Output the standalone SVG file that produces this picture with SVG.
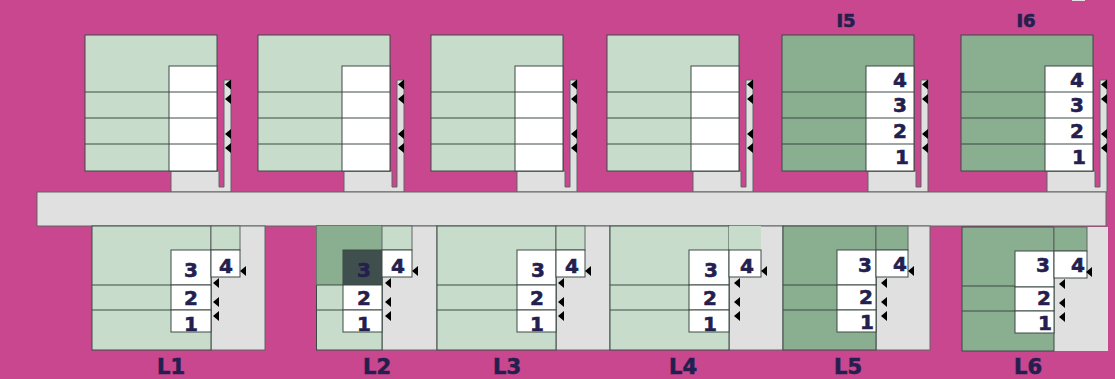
<svg xmlns="http://www.w3.org/2000/svg" xmlns:xlink="http://www.w3.org/1999/xlink" width="1115" height="379" viewBox="0 0 1115 379">
<style>
.ln{stroke:#3c4a44;stroke-width:1;fill:none}
.wh{fill:#fff;stroke:#3c4a44;stroke-width:1}
.gy{fill:#e0e0e0;stroke:#5f6662;stroke-width:1}
.n{font-family:"DejaVu Sans","Liberation Sans",sans-serif;font-weight:700;font-size:20px;fill:#241f4e;stroke:#241f4e;stroke-width:.6;text-anchor:middle}
.t{font-family:"DejaVu Sans","Liberation Sans",sans-serif;font-weight:700;font-size:21px;fill:#241f4e;stroke:#241f4e;stroke-width:.6;text-anchor:middle}
.a{fill:#000}
</style>
<defs>
<path id="ar" class="a" d="M0 0L6-5V5Z"/>
<g id="upper">
<path class="gy" d="M86 136H134V152H139V45H146V157H86Z"/>
<rect x="0" y="0" width="132" height="136" stroke="#3c4a44" stroke-width="1"/>
<rect class="wh" x="84" y="31" width="48" height="105"/>
<path class="ln" d="M0 57H132M0 83H132M0 109H132"/>
<use xlink:href="#ar" x="140" y="49.500"/>
<use xlink:href="#ar" x="140" y="64"/>
<use xlink:href="#ar" x="140" y="99"/>
<use xlink:href="#ar" x="140" y="113"/>
</g>
<g id="arrows">
<use xlink:href="#ar" x="29" y="271"/>
<use xlink:href="#ar" x="2" y="283"/>
<use xlink:href="#ar" x="2" y="302"/>
<use xlink:href="#ar" x="2" y="316"/>
</g>
</defs>
<rect width="1115" height="379" fill="#c8478f"/>
<rect x="1072" y="0" width="13" height="1" fill="#e8dfe4"/>
<g id="upper-rooms">
<g id="I1"><use xlink:href="#upper" x="85" y="35" fill="#c8dccb"/></g>
<g id="I2"><use xlink:href="#upper" x="258" y="35" fill="#c8dccb"/></g>
<g id="I3"><use xlink:href="#upper" x="431" y="35" fill="#c8dccb"/></g>
<g id="I4"><use xlink:href="#upper" x="607" y="35" fill="#c8dccb"/></g>
<g id="I5"><use xlink:href="#upper" x="782" y="35" fill="#8aae90"/>
<text class="n" x="900" y="87">4</text><text class="n" x="900" y="112">3</text><text class="n" x="900" y="138">2</text><text class="n" x="902" y="164">1</text>
<text class="t" x="846" y="27" style="font-size:18px">I5</text></g>
<g id="I6"><use xlink:href="#upper" x="961" y="35" fill="#8aae90"/>
<text class="n" x="1077" y="87">4</text><text class="n" x="1077" y="112">3</text><text class="n" x="1077" y="138">2</text><text class="n" x="1079" y="164">1</text>
<text class="t" x="1026" y="27" style="font-size:18px">I6</text></g>
</g>
<g id="corridor"><rect class="gy" x="37" y="192" width="1069" height="34"/></g>
<g id="lower-rooms">
<g id="L1">
<rect class="gy" x="211" y="226" width="54" height="124"/>
<rect x="92" y="226" width="119" height="124" fill="#c8dccb" stroke="#3c4a44"/>
<rect x="211" y="226" width="29" height="24" fill="#c8dccb" stroke="#5f6662"/>
<path class="ln" d="M92 285H171M92 310H171"/>
<rect class="wh" x="171" y="250" width="40" height="35"/><rect class="wh" x="171" y="285" width="40" height="25"/><rect class="wh" x="171" y="310" width="40" height="22"/><rect class="wh" x="211" y="250" width="29" height="27"/>
<use xlink:href="#arrows" x="211"/>
<text class="n" x="191" y="277">3</text><text class="n" x="226" y="273">4</text><text class="n" x="191" y="305">2</text><text class="n" x="191" y="331">1</text>
<text class="t" x="171" y="374">L1</text></g>
<g id="L2">
<rect class="gy" x="382" y="226" width="55" height="124"/>
<rect x="316.500" y="226" width="65.500" height="124" fill="#c8dccb" stroke="#3c4a44"/>
<rect x="316.500" y="226" width="65.500" height="59" fill="#8aae90"/>
<rect x="382" y="226" width="30" height="24" fill="#c8dccb" stroke="#5f6662"/>
<path class="ln" d="M317 285H343M317 310H343"/>
<rect x="343" y="250" width="39" height="35" fill="#3f4f4d" stroke="#3c4a44"/><rect class="wh" x="343" y="285" width="39" height="25"/><rect class="wh" x="343" y="310" width="39" height="22"/><rect class="wh" x="382" y="250" width="30" height="27"/>
<use xlink:href="#arrows" x="383"/>
<text class="n" x="364" y="277">3</text><text class="n" x="398" y="273">4</text><text class="n" x="364" y="305">2</text><text class="n" x="364" y="331">1</text>
<text class="t" x="377" y="374">L2</text></g>
<g id="L3">
<rect class="gy" x="556" y="226" width="54" height="124"/>
<rect x="437" y="226" width="119" height="124" fill="#c8dccb" stroke="#3c4a44"/>
<rect x="556" y="226" width="29" height="24" fill="#c8dccb" stroke="#5f6662"/>
<path class="ln" d="M437 285H517M437 310H517"/>
<rect class="wh" x="517" y="250" width="39" height="35"/><rect class="wh" x="517" y="285" width="39" height="25"/><rect class="wh" x="517" y="310" width="39" height="22"/><rect class="wh" x="556" y="250" width="29" height="27"/>
<use xlink:href="#arrows" x="556"/>
<text class="n" x="538" y="277">3</text><text class="n" x="572" y="273">4</text><text class="n" x="537" y="305">2</text><text class="n" x="537" y="331">1</text>
<text class="t" x="507" y="374">L3</text></g>
<g id="L4">
<rect class="gy" x="729" y="226" width="54" height="124"/>
<rect x="610" y="226" width="119" height="124" fill="#c8dccb" stroke="#3c4a44"/>
<rect x="729" y="226" width="32" height="24" fill="#c8dccb"/>
<path class="ln" d="M610 285H689M610 310H689"/>
<rect class="wh" x="689" y="250" width="40" height="35"/><rect class="wh" x="689" y="285" width="40" height="25"/><rect class="wh" x="689" y="310" width="40" height="22"/><rect class="wh" x="729" y="250" width="32" height="27"/>
<use xlink:href="#arrows" x="732"/>
<text class="n" x="711" y="277">3</text><text class="n" x="747" y="273">4</text><text class="n" x="710" y="305">2</text><text class="n" x="710" y="331">1</text>
<text class="t" x="683" y="374">L4</text></g>
<g id="L5">
<rect class="gy" x="876" y="226" width="54" height="124"/>
<rect x="783" y="226" width="93" height="124" fill="#8aae90" stroke="#3c4a44"/>
<rect x="876" y="226" width="32" height="24" fill="#8aae90" stroke="#5f6662"/>
<path class="ln" d="M783 285H837M783 310H837"/>
<rect class="wh" x="837" y="250" width="39" height="35"/><rect class="wh" x="837" y="285" width="39" height="25"/><rect class="wh" x="837" y="310" width="39" height="22"/><rect class="wh" x="876" y="250" width="32" height="27"/>
<use xlink:href="#arrows" x="879"/>
<text class="n" x="865" y="272">3</text><text class="n" x="900" y="271">4</text><text class="n" x="866" y="304">2</text><text class="n" x="867" y="329">1</text>
<text class="t" x="848" y="374">L5</text></g>
<g id="L6">
<rect x="1054" y="227" width="54" height="124" fill="#e0e0e0"/>
<rect x="962" y="227" width="92" height="124" fill="#8aae90" stroke="#3c4a44"/>
<rect x="1054" y="227" width="33" height="24" fill="#8aae90" stroke="#5f6662"/>
<path class="ln" d="M962 286H1015M962 311H1015"/>
<rect class="wh" x="1015" y="251" width="39" height="36"/><rect class="wh" x="1015" y="287" width="39" height="24"/><rect class="wh" x="1015" y="311" width="39" height="22"/><rect class="wh" x="1054" y="251" width="33" height="27"/>
<use xlink:href="#arrows" x="1057" y="1"/>
<text class="n" x="1043" y="272">3</text><text class="n" x="1078" y="272">4</text><text class="n" x="1044" y="305">2</text><text class="n" x="1045" y="330">1</text>
<text class="t" x="1028" y="374">L6</text></g>
</g>
</svg>
